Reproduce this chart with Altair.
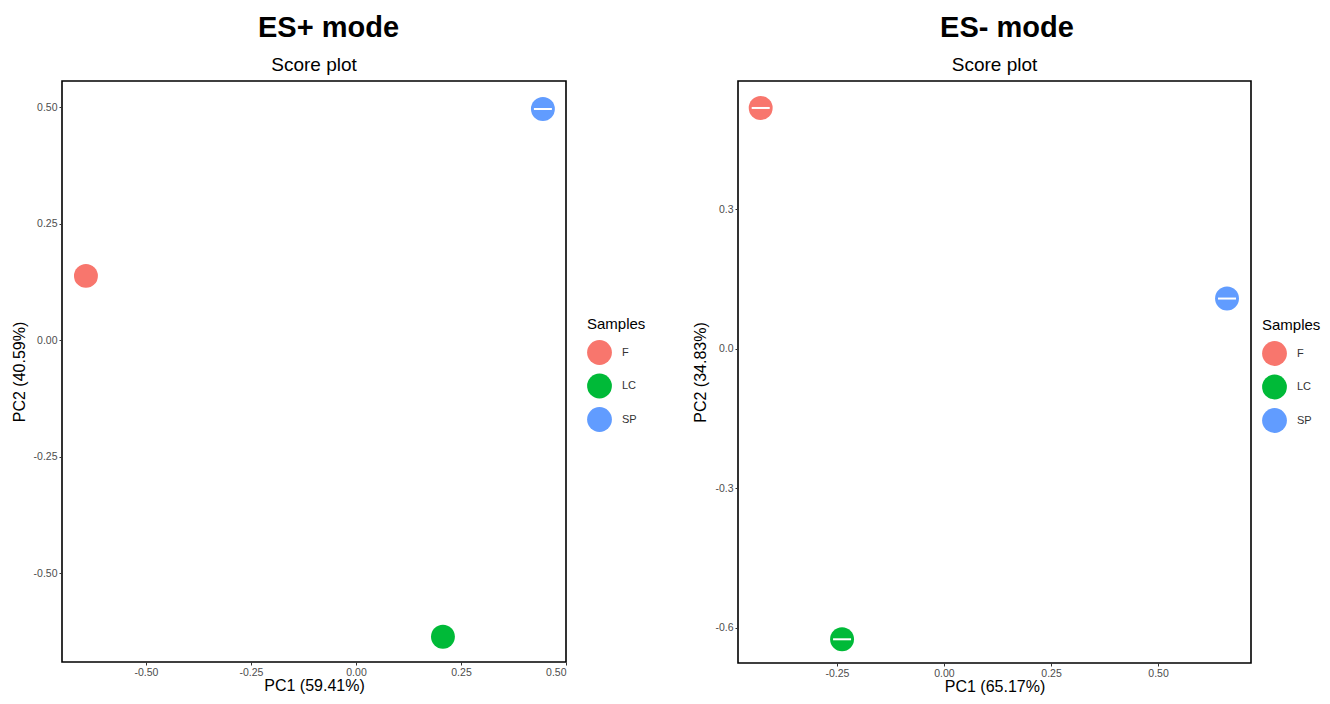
import altair as alt
import pandas as pd

samples = ["F", "LC", "SP"]
colors = ["#F8766D", "#00BA38", "#619CFF"]

# ES+ mode
pos_pc1 = [-0.643, 0.207, 0.445]
pos_pc2 = [0.138, -0.636, 0.496]
pos_dash = [False, False, True]

# ES- mode
neg_pc1 = [-0.428, -0.238, 0.661]
neg_pc2 = [0.518, -0.625, 0.108]
neg_dash = [True, True, True]

FONT = "Liberation Sans"
HYPHEN = "replace(datum.label, '\u2212', '-')"


def build(pc1, pc2, dash, xdom, ydom, xticks, yticks, yfmt, xtitle, ytitle, main, w, h, lx, ly):
    df = pd.DataFrame({"Samples": samples, "PC1": pc1, "PC2": pc2, "dash": dash})
    x = alt.X("PC1:Q", title=xtitle,
              scale=alt.Scale(domain=xdom, nice=False, zero=False),
              axis=alt.Axis(values=xticks, format=".2f", labelExpr=HYPHEN))
    y = alt.Y("PC2:Q", title=ytitle,
              scale=alt.Scale(domain=ydom, nice=False, zero=False),
              axis=alt.Axis(values=yticks, format=yfmt, labelExpr=HYPHEN))
    pts = alt.Chart(df).mark_circle(size=572, opacity=1).encode(
        x=x, y=y,
        color=alt.Color("Samples:N",
                        scale=alt.Scale(domain=samples, range=colors),
                        legend=alt.Legend(title="Samples", orient="none",
                                          legendX=lx, legendY=ly)),
    )
    dashes = alt.Chart(df).transform_filter("datum.dash").mark_tick(
        orient="horizontal", size=18, thickness=2, color="white", opacity=1
    ).encode(x=x, y=y)
    inner = alt.layer(pts, dashes).properties(
        width=w, height=h,
        title=alt.TitleParams("Score plot", fontSize=19, fontWeight="normal",
                              font=FONT, color="black", anchor="middle",
                              frame="group", offset=6),
    )
    return alt.hconcat(inner).properties(
        title=alt.TitleParams(main, fontSize=29, fontWeight="bold", font=FONT,
                              color="black", anchor="middle", frame="bounds",
                              offset=12)
    ).resolve_scale(color="independent")


left = build(pos_pc1, pos_pc2, pos_dash, [-0.70, 0.50], [-0.69, 0.556],
             [-0.5, -0.25, 0.0, 0.25, 0.5], [-0.5, -0.25, 0.0, 0.25, 0.5], ".2f",
             "PC1 (59.41%)", "PC2 (40.59%)", "ES+ mode", 504, 581, 525, 236)
right = build(neg_pc1, neg_pc2, neg_dash, [-0.481, 0.717], [-0.676, 0.576],
              [-0.25, 0.0, 0.25, 0.5], [-0.6, -0.3, 0.0, 0.3], ".1f",
              "PC1 (65.17%)", "PC2 (34.83%)", "ES- mode", 513, 582, 524, 237)

chart = alt.hconcat(left, right, spacing=45).resolve_scale(color="independent").configure(
    font=FONT,
    padding={"left": 2, "top": 6, "right": 0, "bottom": 0},
).configure_view(
    stroke="black", strokeWidth=1.6
).configure_axis(
    grid=False, domain=False, ticks=True, tickColor="#333333", tickSize=3,
    labelFont=FONT, labelFontSize=10.5, labelColor="#4d4d4d", labelPadding=2,
    titleFont=FONT, titleFontSize=16, titleFontWeight="normal", titleColor="black",
    titlePadding=0,
).configure_axisY(
    titlePadding=6,
).configure_legend(
    titleFont=FONT, titleFontSize=15, titleFontWeight="normal", titleColor="black",
    labelFont=FONT, labelFontSize=11, labelColor="#333333",
    symbolSize=615, symbolType="circle", symbolStrokeWidth=0, rowPadding=8.5,
    titlePadding=8, labelOffset=10,
).configure_concat(spacing=45)

chart.save("out.html", embed_options={"renderer": "svg", "actions": False})
